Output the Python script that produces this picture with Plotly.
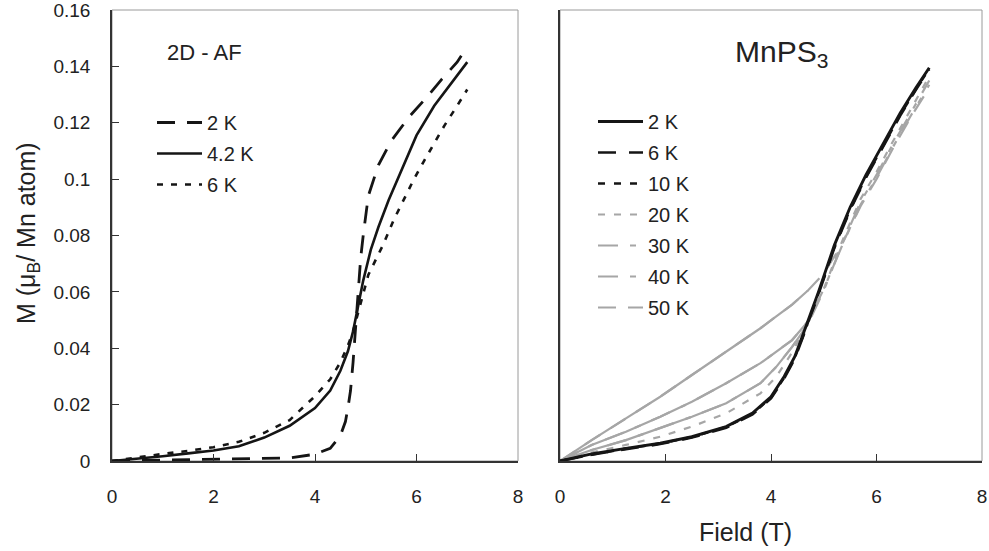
import plotly.graph_objects as go
from plotly.subplots import make_subplots

# ---------------- Data ----------------
# Left panel: 2D-AF model
F_2K_L = [0, 1, 2, 3, 3.5, 4.0, 4.3, 4.5, 4.6, 4.65, 4.7, 4.75, 4.8, 4.85, 4.9, 4.95, 5.05, 5.25, 5.5, 5.85, 6.2, 6.5, 6.8, 7.0]
M_2K_L = [0, 0.0003, 0.0005, 0.0008, 0.0011, 0.0024, 0.0045, 0.009, 0.014, 0.019, 0.025, 0.035, 0.048, 0.061, 0.072, 0.080, 0.094, 0.105, 0.1135, 0.122, 0.129, 0.1355, 0.1415, 0.147]

F_42K_L = [0, 0.5, 1.0, 1.5, 2.0, 2.5, 3.0, 3.5, 4.0, 4.3, 4.5, 4.65, 4.75, 4.85, 4.95, 5.1, 5.25, 5.45, 5.7, 6.0, 6.35, 6.7, 7.0]
M_42K_L = [0, 0.0008, 0.0017, 0.0027, 0.0037, 0.0052, 0.0083, 0.0125, 0.0188, 0.025, 0.032, 0.039, 0.046, 0.055, 0.064, 0.075, 0.083, 0.0925, 0.103, 0.1155, 0.126, 0.1345, 0.1415]

F_6K_L = [0, 0.5, 1.0, 1.5, 2.0, 2.5, 3.0, 3.5, 4.0, 4.3, 4.5, 4.65, 4.75, 4.9, 5.05, 5.2, 5.35, 5.55, 5.75, 5.95, 6.15, 6.35, 6.55, 6.8, 7.0]
M_6K_L = [0, 0.0013, 0.0025, 0.0036, 0.0049, 0.0068, 0.0100, 0.0145, 0.023, 0.029, 0.035, 0.041, 0.046, 0.056, 0.066, 0.0715, 0.077, 0.0855, 0.093, 0.1, 0.1065, 0.113, 0.119, 0.126, 0.1318]

# Right panel: MnPS3
F_BLACK = [0, 0.6, 1.25, 1.9, 2.5, 3.15, 3.65, 4.0, 4.25, 4.45, 4.6, 4.75, 4.9, 5.2, 5.5, 5.8, 6.15, 6.45, 6.75, 7.0]
M_2K_R = [0, 0.0025, 0.0045, 0.0063, 0.0086, 0.0122, 0.017, 0.0228, 0.03, 0.037, 0.0445, 0.052, 0.06, 0.0765, 0.090, 0.1015, 0.1135, 0.1235, 0.1325, 0.1395]
M_6K_R = [0, 0.0022, 0.0042, 0.006, 0.0083, 0.0118, 0.0165, 0.0222, 0.0293, 0.0362, 0.0437, 0.0512, 0.0592, 0.0755, 0.0890, 0.1005, 0.1125, 0.1225, 0.1318, 0.1390]
M_10K_R = [0, 0.0023, 0.0044, 0.0062, 0.0085, 0.0121, 0.0168, 0.0225, 0.0296, 0.0366, 0.044, 0.0515, 0.0595, 0.0758, 0.0893, 0.1008, 0.1128, 0.1228, 0.132, 0.1392]

F_GRAY = [0, 0.6, 1.25, 1.9, 2.5, 3.15, 3.8, 4.1, 4.4, 4.7, 5.0, 5.35, 5.7, 6.0, 6.3, 6.65, 7.0]
M_20K_R = [0, 0.003, 0.0057, 0.0086, 0.0122, 0.0169, 0.024, 0.0299, 0.0385, 0.049, 0.061, 0.078, 0.093, 0.1025, 0.113, 0.1245, 0.1365]
M_30K_R = [0, 0.0039, 0.0074, 0.0116, 0.0157, 0.0205, 0.0276, 0.0334, 0.0405, 0.0485, 0.0605, 0.077, 0.092, 0.1015, 0.112, 0.1235, 0.135]
M_40K_R = [0, 0.0057, 0.0104, 0.0157, 0.021, 0.0276, 0.0347, 0.0388, 0.0429, 0.0495, 0.061, 0.0765, 0.091, 0.1005, 0.111, 0.1225, 0.1335]
M_50K_R = [0, 0.0074, 0.0151, 0.0228, 0.0305, 0.0388, 0.0471, 0.0513, 0.0555, 0.0605, 0.0665, 0.077, 0.0905, 0.1, 0.1105, 0.122, 0.1325]

X_TICKS = [0, 2, 4, 6, 8]
Y_TICKS = [0, 0.02, 0.04, 0.06, 0.08, 0.1, 0.12, 0.14, 0.16]
Y_TICK_TEXT = ["0", "0.02", "0.04", "0.06", "0.08", "0.1", "0.12", "0.14", "0.16"]

# ---------------- Figure ----------------
W, H = 989, 551
BLACK = "#151515"
GRAY = "#a6a6a6"
FONT = "Liberation Sans, Arial, sans-serif"

fig = make_subplots(rows=1, cols=2)

def add(col, x, y, name, color, width, dash, legend, showlegend=True):
    fig.add_trace(go.Scatter(x=x, y=y, mode="lines", name=name,
                             line=dict(color=color, width=width, dash=dash),
                             legend=legend, showlegend=showlegend,
                             legendgroup=legend + name),
                  row=1, col=col)

# left
add(1, F_2K_L, M_2K_L, "2 K", BLACK, 2.8, "18px,12px", "legend")
add(1, F_42K_L, M_42K_L, "4.2 K", BLACK, 2.6, "solid", "legend")
add(1, F_6K_L, M_6K_L, "6 K", BLACK, 2.6, "6px,8px", "legend")

# right: gray first (under black)
add(2, F_GRAY, M_20K_R, "20 K", GRAY, 2.2, "7px,9px", "legend2")
add(2, F_GRAY, M_30K_R, "30 K", GRAY, 2.2, "20px,12px,6px,12px", "legend2")
add(2, F_GRAY, M_40K_R, "40 K", GRAY, 2.2, "20px,12px,6px,12px", "legend2")
add(2, F_GRAY, M_50K_R, "50 K", GRAY, 2.2, "18px,12px", "legend2")
n_low = 10
for m in (M_30K_R, M_40K_R, M_50K_R):
    add(2, F_GRAY[:n_low], m[:n_low], "", GRAY, 2.2, "solid", "legend2", showlegend=False)
add(2, F_BLACK, M_10K_R, "10 K", BLACK, 2.6, "7px,9px", "legend2")
add(2, F_BLACK, M_6K_R, "6 K", BLACK, 2.6, "18px,13px", "legend2")
add(2, F_BLACK, M_2K_R, "2 K", BLACK, 2.9, "solid", "legend2")

rank = {"2 K": 1, "6 K": 2, "10 K": 3, "20 K": 4, "30 K": 5, "40 K": 6, "50 K": 7, "4.2 K": 2}
for tr in fig.data:
    if tr.name in rank:
        tr.legendrank = rank[tr.name]

x1 = [112 / W, 518 / W]
x2 = [560 / W, 982 / W]
yd = [(H - 461) / H, (H - 10) / H]

axis_common = dict(showgrid=False, zeroline=False, showline=True, linecolor="#333333",
                   linewidth=1.5, automargin=False, ticklabeloverflow="allow",
                   tickfont=dict(family=FONT, size=19, color="#222222"))

fig.update_xaxes(range=[0, 8], tickvals=X_TICKS, ticks="inside", ticklen=7, tickcolor="#333333",
                 ticklabelstandoff=17, **axis_common)
fig.update_layout(xaxis=dict(domain=x1), xaxis2=dict(domain=x2))
fig.update_yaxes(range=[0, 0.1600001], **axis_common)
fig.update_layout(
    yaxis=dict(domain=yd, tickvals=Y_TICKS, ticktext=Y_TICK_TEXT, ticks="inside", ticklen=7,
               tickcolor="#333333", ticklabelstandoff=16),
    yaxis2=dict(domain=yd, showticklabels=False, ticks=""),
)

for xr, yr in (("x domain", "y domain"), ("x2 domain", "y2 domain")):
    fig.add_shape(type="rect", xref=xr, yref=yr, x0=0, x1=1, y0=0, y1=1,
                  line=dict(color="#9a9a9a", width=1), layer="below")

legend_font = dict(family=FONT, size=20, color="#222222")
ann_font = dict(family=FONT, color="#222222")
fig.update_layout(
    width=W, height=H,
    margin=dict(l=0, r=0, t=0, b=0, autoexpand=False),
    paper_bgcolor="white", plot_bgcolor="white",
    font=dict(family=FONT, color="#222222"),
    legend=dict(x=152 / W, y=(H - 103) / H, xanchor="left", yanchor="top",
                font=legend_font, bgcolor="rgba(0,0,0,0)", itemwidth=45,
                tracegroupgap=2),
    legend2=dict(x=593 / W, y=(H - 102) / H, xanchor="left", yanchor="top",
                 font=legend_font, bgcolor="rgba(0,0,0,0)", itemwidth=45,
                 tracegroupgap=2),
    annotations=[
        dict(text="2D - AF", x=204 / W, y=(H - 52) / H, xref="paper", yref="paper",
             xanchor="center", yanchor="middle",
             showarrow=False, font=dict(size=22, **ann_font)),
        dict(text="MnPS<sub>3</sub>", x=781 / W, y=(H - 54) / H, xref="paper", yref="paper",
             xanchor="center", yanchor="middle",
             showarrow=False, font=dict(size=30, **ann_font)),
        dict(text="Field (T)", x=745 / W, y=(H - 532) / H, xref="paper", yref="paper",
             xanchor="center", yanchor="middle",
             showarrow=False, font=dict(size=25, **ann_font)),
        dict(text="M (μ<sub>B</sub>/ Mn atom)", x=28 / W, y=(H - 233) / H, xref="paper", yref="paper",
             xanchor="center", yanchor="middle",
             showarrow=False, textangle=-90, font=dict(size=25, **ann_font)),
    ],
)

fig.write_html("out.html", config={"displayModeBar": False},
               post_script="document.body.style.margin='0px';")
